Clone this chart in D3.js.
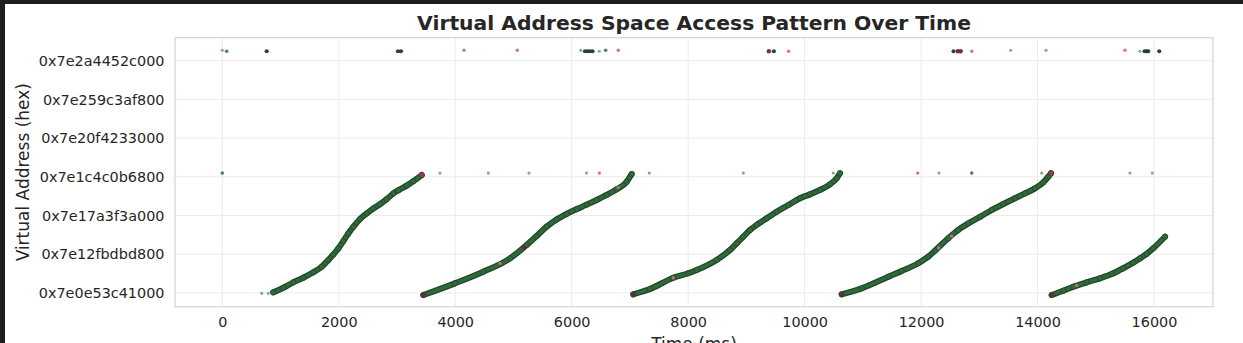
<!DOCTYPE html>
<html><head><meta charset="utf-8">
<script src="https://cdn.jsdelivr.net/npm/d3@7"></script>
<style>html,body{margin:0;padding:0;background:#1e1e1e;overflow:hidden}</style>
</head><body><svg id="c" width="1243" height="343"></svg>
<script>
// ---- data ----
const title = "Virtual Address Space Access Pattern Over Time";
const xLabel = "Time (ms)";
const yLabel = "Virtual Address (hex)";
const xTicks = [0, 2000, 4000, 6000, 8000, 10000, 12000, 14000, 16000];
const yTicks = ["0x7e0e53c41000","0x7e12fbdbd800","0x7e17a3f3a000","0x7e1c4c0b6800","0x7e20f4233000","0x7e259c3af800","0x7e2a4452c000"];
const xDomain = [-812, 17013];
const yDomain = [138592.82e9, 138731.9e9];

// sequential sweeps: time (ms) and address
const runTimes = [
  [876, 1048, 1219, 1391, 1563, 1707, 1820, 1906, 1992, 2078, 2164, 2250, 2365, 2480, 2593, 2708, 2823, 2937, 3022, 3167, 3280, 3424],
  [3453, 3996, 4482, 4941, 5227, 5399, 5571, 5742, 5914, 6086, 6258, 6429, 6601, 6773, 6944, 7030],
  [7058, 7345, 7745, 8002, 8147, 8490, 8718, 8833, 8947, 9062, 9177, 9349, 9520, 9720, 9921, 10092, 10264, 10436, 10551, 10607],
  [10637, 10980, 11437, 11667, 11952, 12124, 12239, 12467, 12639, 12811, 13012, 13212, 13412, 13613, 13784, 13956, 14099, 14184, 14231],
  [14243, 14442, 14614, 14844, 15072, 15273, 15472, 15644, 15759, 15874, 15987, 16189]
];
const runAddrs = [
  [138600.26e9, 138602.64e9, 138605.43e9, 138607.81e9, 138610.6e9, 138613.5e9, 138616.9e9, 138619.8e9, 138622.9e9, 138626.7e9, 138630.7e9, 138634.1e9, 138638.1e9, 138641.0e9, 138643.6e9, 138645.8e9, 138648.4e9, 138651.4e9, 138653.0e9, 138655.4e9, 138657.7e9, 138660.9e9],
  [138598.86e9, 138604.9e9, 138610.9e9, 138617.8e9, 138624.7e9, 138629.4e9, 138634.2e9, 138637.9e9, 138640.8e9, 138643.3e9, 138645.6e9, 138648.0e9, 138650.6e9, 138653.5e9, 138657.4e9, 138661.4e9],
  [138599.22e9, 138601.96e9, 138607.8e9, 138610.1e9, 138611.8e9, 138617.0e9, 138622.1e9, 138625.6e9, 138629.0e9, 138632.5e9, 138635.1e9, 138638.5e9, 138641.9e9, 138645.4e9, 138648.9e9, 138650.9e9, 138653.2e9, 138656.1e9, 138659.2e9, 138661.8e9],
  [138599.22e9, 138602.33e9, 138608.3e9, 138611.3e9, 138615.3e9, 138618.7e9, 138621.8e9, 138628.2e9, 138632.5e9, 138635.9e9, 138639.3e9, 138642.8e9, 138645.9e9, 138648.9e9, 138651.4e9, 138654.0e9, 138657.1e9, 138660.0e9, 138661.8e9],
  [138598.86e9, 138601.1e9, 138603.15e9, 138605.4e9, 138607.5e9, 138609.7e9, 138612.7e9, 138615.6e9, 138617.8e9, 138620.1e9, 138623.0e9, 138629.0e9]
];

// isolated accesses
const strayTime = [0, 76, 762, 3017, 3069, 4151, 5066, 6155, 6228, 6271, 6314, 6357, 6474, 6584, 6800,
  9386, 9472, 9725, 12558, 12632, 12680, 12871, 13539, 14145, 15502, 15759, 15838, 15871, 15900, 16090,
  0, 3738, 4568, 5267, 6254, 6474, 7333, 8947, 10492, 11942, 12307, 12869, 14071, 15587, 15970,
  677, 790,
  3453, 7058, 10637, 14243, 3424, 14231, 7745, 12300, 12525, 14672, 4770, 5180, 6800];
const strayAddr = [138725.4e9, 138724.9e9, 138724.9e9, 138724.9e9, 138724.9e9, 138725.4e9, 138725.4e9, 138725.4e9, 138724.9e9, 138724.9e9, 138724.9e9, 138724.9e9, 138724.9e9, 138725.4e9, 138725.4e9,
  138724.9e9, 138724.9e9, 138724.9e9, 138724.9e9, 138724.9e9, 138724.9e9, 138724.9e9, 138725.4e9, 138725.4e9, 138725.4e9, 138724.9e9, 138724.9e9, 138724.9e9, 138724.9e9, 138724.9e9,
  138661.9e9, 138661.9e9, 138661.9e9, 138661.9e9, 138661.9e9, 138661.9e9, 138661.9e9, 138661.9e9, 138661.9e9, 138661.9e9, 138661.9e9, 138661.9e9, 138661.9e9, 138661.9e9, 138661.9e9,
  138599.74e9, 138599.74e9,
  138598.86e9, 138599.22e9, 138599.22e9, 138598.86e9, 138660.9e9, 138661.8e9, 138607.8e9, 138623.2e9, 138629.3e9, 138603.8e9, 138615.2e9, 138623.6e9, 138654.4e9];
const strayKind = ["lg","g","dk","dk","dk","pk","pk","lg","dk","dk","dk","dk","lg","g","pk",
  "mr","dk","pk","dk","mr","mr","pk","lg","lg","pk","lg","dk","dk","dk","dk",
  "g","lg","lg","lg","lg","pk","lg","lg","lg","pk","lg","g","lg","lg","lg",
  "lg","lg",
  "mr","mr","mr","mr","rd","rd","pk","pk","pk","pk","pk","mr","pk"];

// ---- styles ----
const kindColor = {lg:"#64a37a", g:"#3f7f52", dk:"#26392c", pk:"#d46a8c", mr:"#6e2638", rd:"#b3304f"};
const kindR = {lg:1.6, g:1.8, dk:2.1, pk:1.7, mr:2.2, rd:2.4};

const svg = d3.select("#c");
svg.append("rect").attr("x",5).attr("y",4).attr("width",1243).attr("height",343).attr("fill","#ffffff");

const L = 175, R = 1213, T = 37.7, B = 306.7;
const x = d3.scaleLinear().domain(xDomain).range([L, R]);
const y = d3.scaleLinear().domain(yDomain).range([B, T]);
const yVals = yTicks.map(s => parseInt(s, 16));

// grid
const g = svg.append("g");
g.selectAll(".gx").data(xTicks).join("line")
  .attr("x1", d => x(d)).attr("x2", d => x(d)).attr("y1", T).attr("y2", B)
  .attr("stroke", "#ebebeb").attr("stroke-width", 1);
g.selectAll(".gy").data(yVals).join("line")
  .attr("x1", L).attr("x2", R).attr("y1", d => y(d)).attr("y2", d => y(d))
  .attr("stroke", "#ebebeb").attr("stroke-width", 1);

// axes (labels only)
const xAxis = svg.append("g").attr("transform", `translate(0,${B})`)
  .call(d3.axisBottom(x).tickValues(xTicks).tickSize(0).tickPadding(10).tickFormat(d3.format("d")));
const yAxis = svg.append("g").attr("transform", `translate(${L},0)`)
  .call(d3.axisLeft(y).tickValues(yVals).tickSize(0).tickPadding(10.5).tickFormat((d, i) => yTicks[i]));
[xAxis, yAxis].forEach(a => {
  a.select(".domain").remove();
  a.selectAll("text").attr("fill", "#262626").style("font-family", "DejaVu Sans").style("font-size", "14.4px");
});

// frame
svg.append("rect").attr("x", L).attr("y", T).attr("width", R - L).attr("height", B - T)
  .attr("fill", "none").attr("stroke", "#d4d4d4").attr("stroke-width", 1.2);

// sweeps
const line = d3.line().x(d => x(d[0])).y(d => y(d[1])).curve(d3.curveMonotoneX);
const runs = runTimes.map((ts, i) => ts.map((t, j) => [t, runAddrs[i][j]]));
const rg = svg.append("g");
rg.selectAll(".outer").data(runs).join("path").attr("d", line)
  .attr("fill", "none").attr("stroke", "#1f4728").attr("stroke-width", 6).attr("stroke-linecap", "round");
rg.selectAll(".inner").data(runs).join("path").attr("d", line)
  .attr("fill", "none").attr("stroke", "#2f6a3c").attr("stroke-width", 3.4).attr("stroke-linecap", "round");
rg.selectAll(".pt").data(runs.flat()).join("circle")
  .attr("cx", d => x(d[0])).attr("cy", d => y(d[1])).attr("r", 2.7)
  .attr("fill", "#2f6a3c").attr("stroke", "#1f4728").attr("stroke-width", 0.8);

// isolated accesses
const stray = strayTime.map((t, i) => ({t, a: strayAddr[i], k: strayKind[i]}));
svg.append("g").selectAll("circle").data(stray).join("circle")
  .attr("cx", d => x(d.t)).attr("cy", d => y(d.a)).attr("r", d => kindR[d.k])
  .attr("fill", d => kindColor[d.k]).attr("opacity", d => d.k === "lg" ? 0.85 : 0.95);

// texts
svg.append("text").attr("x", (L + R) / 2).attr("y", 30).attr("text-anchor", "middle")
  .style("font-family", "DejaVu Sans").style("font-weight", "bold").style("font-size", "20.3px")
  .attr("fill", "#262626").text(title);
svg.append("text").attr("x", (L + R) / 2).attr("y", 350).attr("text-anchor", "middle")
  .style("font-family", "DejaVu Sans").style("font-size", "17px").attr("fill", "#262626").text(xLabel);
svg.append("text").attr("transform", `translate(29,${(T + B) / 2}) rotate(-90)`).attr("text-anchor", "middle")
  .style("font-family", "DejaVu Sans").style("font-size", "17px").attr("fill", "#262626").text(yLabel);
</script></body></html>
